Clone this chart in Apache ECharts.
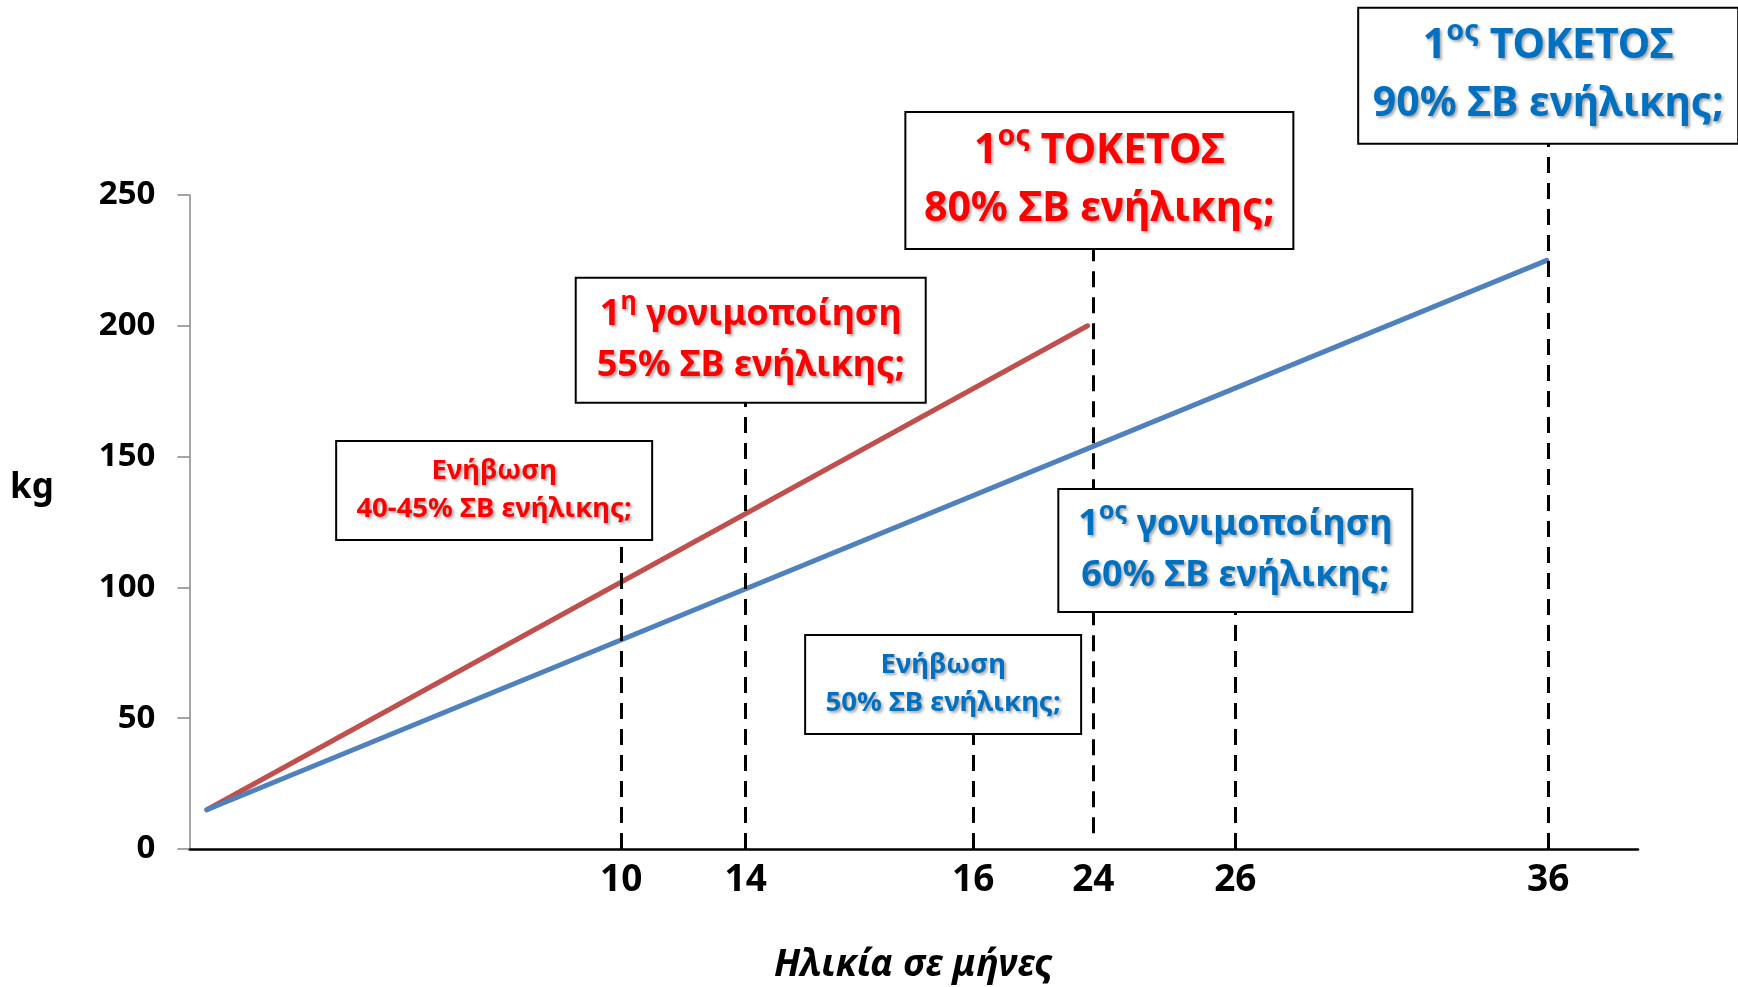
<!DOCTYPE html>
<html><head><meta charset="utf-8">
<script src="https://cdn.jsdelivr.net/npm/echarts@6/dist/echarts.min.js"></script>
<style>html,body{margin:0;padding:0;background:#fff}#c{width:1738px;height:987px}</style>
</head><body><div id="c"></div>
<script>
// ---- data ----
// The age axis is schematic: each marked age sits at a position (0–100) along the drawn axis
const ageLabels = ['10', '14', '16', '24', '26', '36'];
const agePos = [29.8, 38.4, 54.1, 62.4, 72.2, 93.8];
const kgTicks = [0, 50, 100, 150, 200, 250];
// growth lines: [axis position, kg]
const redGrowth = [[1.2, 15], [62.0, 200]];
const blueGrowth = [[1.2, 15], [93.7, 225]];
// annotations (text, series, age)
const annoSeries = ['red', 'red', 'red', 'blue', 'blue', 'blue'];
const annoAge = ['10', '14', '24', '36', '26', '16'];
const annoLine1 = ['Ενήβωση', '1^η γονιμοποίηση', '1^ος ΤΟΚΕΤΟΣ', '1^ος ΤΟΚΕΤΟΣ', '1^ος γονιμοποίηση', 'Ενήβωση'];
const annoLine2 = ['40-45% ΣΒ ενήλικης;', '55% ΣΒ ενήλικης;', '80% ΣΒ ενήλικης;', '90% ΣΒ ενήλικης;', '60% ΣΒ ενήλικης;', '50% ΣΒ ενήλικης;'];

// ---- layout / style ----
const FONT = 'Noto Sans';
const colors = { red: '#C0504D', blue: '#4F81BD' };
const textColors = { red: '#FF0000', blue: '#0070C0' };
// dashed line from kg value `from` up to box bottom `top`; box size and horizontal offset
const annoLayout = [
  { from: 0, top: 118.5, dx: -127, w: 314, h: 97, size: 's' },
  { from: 0, top: 171, dx: 5, w: 348, h: 123, size: 'm' },
  { from: 6, top: 229.7, dx: 6, w: 386, h: 135, size: 'l' },
  { from: 0, top: 270, dx: 0, w: 378, h: 134, size: 'l' },
  { from: 0, top: 91, dx: 0, w: 352, h: 121, size: 'm' },
  { from: 0, top: 44.3, dx: -30, w: 274, h: 97, size: 's' }
];
const sizes = {
  s: { fs: 27.5, lh: 38 },
  m: { fs: 36, lh: 51 },
  l: { fs: 41, lh: 58 }
};

function richText(l1, l2) {
  let first;
  if (l1.indexOf('^') >= 0) {
    const parts = l1.split('^');
    const sp = parts[1].indexOf(' ');
    first = '{m|' + parts[0] + '}{u|' + parts[1].slice(0, sp) + '}{m|' + parts[1].slice(sp) + '}';
  } else {
    first = '{m|' + l1 + '}';
  }
  return first + '\n{m|' + l2 + '}';
}

const chart = echarts.init(document.getElementById('c'));
chart.setOption({
  animation: false,
  backgroundColor: '#fff',
  textStyle: { fontFamily: FONT },
  grid: { left: 189.5, right: 100, top: 195, bottom: 138, containLabel: false, outerBoundsMode: 'none' },
  xAxis: {
    type: 'value', min: 0, max: 100,
    axisLine: { show: true, onZero: true, lineStyle: { color: '#000', width: 2.5 } },
    axisTick: { show: false },
    splitLine: { show: false },
    axisLabel: {
      customValues: agePos, margin: 13,
      fontSize: 37, fontWeight: 'bold', color: '#000', fontFamily: FONT,
      formatter: v => { const i = agePos.findIndex(p => Math.abs(p - v) < 1e-6); return i >= 0 ? ageLabels[i] : ''; }
    },
    name: 'Ηλικία σε μήνες', nameLocation: 'middle', nameGap: 97,
    nameTextStyle: { fontSize: 37.5, fontWeight: 'bold', fontStyle: 'italic', color: '#000', fontFamily: FONT }
  },
  yAxis: {
    type: 'value', min: kgTicks[0], max: kgTicks[kgTicks.length - 1], interval: kgTicks[1] - kgTicks[0],
    axisLine: { show: true, lineStyle: { color: '#868686', width: 1.5 } },
    axisTick: { show: true, length: 12, lineStyle: { color: '#868686', width: 1.5 } },
    splitLine: { show: false },
    axisLabel: { margin: 34, fontSize: 33, fontWeight: 'bold', color: '#000', fontFamily: FONT }
  },
  graphic: [{
    type: 'text', x: 32, y: 488, z: 10,
    style: { text: 'kg', fill: '#000', font: 'bold 35px "Noto Sans"', align: 'center', verticalAlign: 'middle' }
  }],
  series: [
    {
      type: 'line', name: 'red', data: redGrowth, clip: false, symbol: 'none', z: 3,
      lineStyle: { color: colors.red, width: 5, cap: 'round' }, itemStyle: { color: colors.red }
    },
    {
      type: 'line', name: 'blue', data: blueGrowth, clip: false, symbol: 'none', z: 3,
      lineStyle: { color: colors.blue, width: 5, cap: 'round' }, itemStyle: { color: colors.blue }
    }
  ]
});

// second pass: annotation boxes and their dashed leader lines, placed through the chart's own scales
function markers(which) {
  const lines = [], points = [];
  annoSeries.forEach((s, i) => {
    if (s !== which) return;
    const L = annoLayout[i];
    const S = sizes[L.size];
    const x = agePos[ageLabels.indexOf(annoAge[i])];
    const p0 = chart.convertToPixel({ xAxisIndex: 0, yAxisIndex: 0 }, [x, L.from]);
    const p1 = chart.convertToPixel({ xAxisIndex: 0, yAxisIndex: 0 }, [x, L.top]);
    lines.push([{ x: p0[0], y: p0[1] }, { x: p1[0], y: p1[1] }]);
    const pv = (L.h - 2 * S.lh) / 2;
    const col = textColors[s];
    const sup = S.fs * 0.7;
    points.push({
      x: p1[0], y: p1[1],
      symbol: 'circle', symbolSize: 0,
      label: {
        show: true, position: 'top', distance: 0, offset: [L.dx, 0],
        formatter: richText(annoLine1[i], annoLine2[i]),
        width: L.w, padding: [pv, 0, pv, 0], align: 'center',
        backgroundColor: '#fff', borderColor: '#000', borderWidth: 2,
        textShadowColor: 'rgba(0,0,0,0.35)', textShadowBlur: 3,
        textShadowOffsetX: 2, textShadowOffsetY: 2,
        rich: {
          m: { fontFamily: FONT, fontWeight: 'bold', fontSize: S.fs, lineHeight: S.lh, color: col, align: 'center' },
          u: { fontFamily: FONT, fontWeight: 'bold', fontSize: sup, lineHeight: S.lh * 0.8, color: col, verticalAlign: 'top', align: 'center' }
        }
      }
    });
  });
  return {
    markLine: {
      silent: true, symbol: ['none', 'none'], animation: false,
      lineStyle: { color: '#000', width: 3, type: [16, 10] },
      label: { show: false },
      data: lines
    },
    markPoint: { silent: true, animation: false, data: points }
  };
}

chart.setOption({
  series: [
    Object.assign({ name: 'red' }, markers('red')),
    Object.assign({ name: 'blue' }, markers('blue'))
  ]
});
</script></body></html>
